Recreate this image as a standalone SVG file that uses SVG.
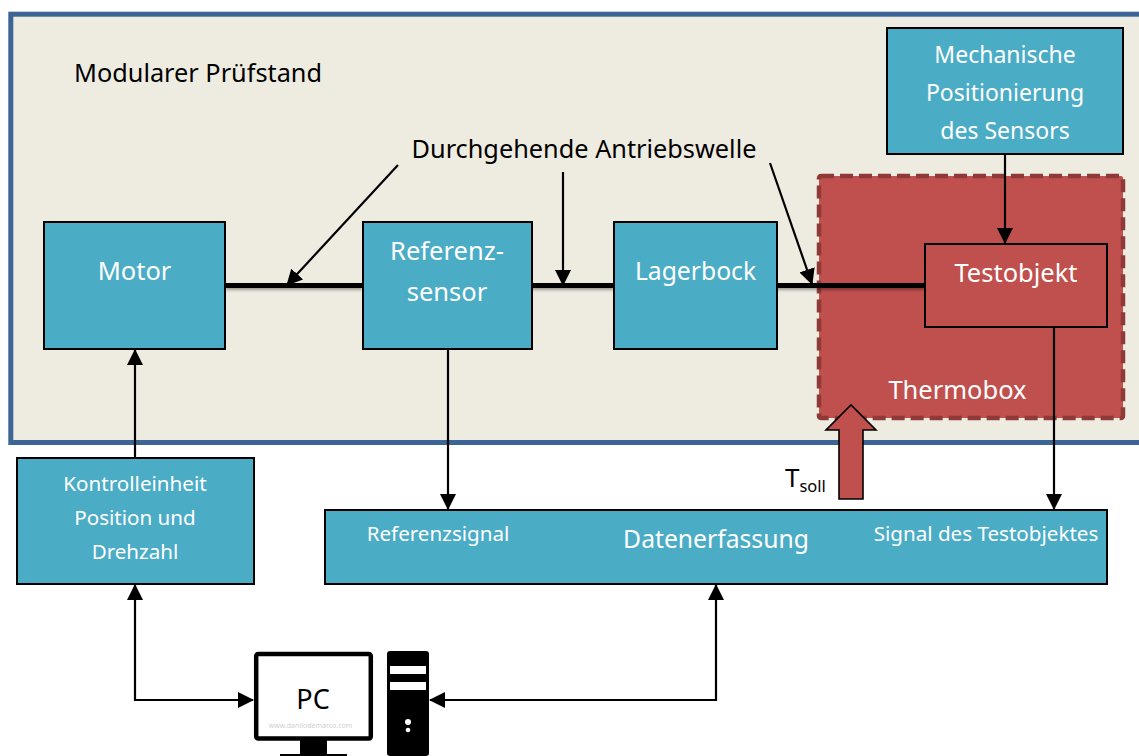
<svg xmlns="http://www.w3.org/2000/svg" width="1139" height="756" viewBox="0 0 1139 756">
<style>
text{font-family:"Noto Sans","Open Sans",sans-serif;text-anchor:middle}
.box{fill:#4bacc6;stroke:#000;stroke-width:2}
.w{fill:#fff;font-size:25.5px}
.w2{fill:#fff;font-size:24.7px}
.ws{fill:#fff;font-size:23px}
.s{fill:#fff;font-size:20.6px}
.k{fill:#000;font-size:25.3px}
.c{fill:none;stroke:#000;stroke-width:2.2}
.shaft{fill:none;stroke:#000;stroke-width:5;filter:url(#sh)}
</style>
<defs>
<marker id="a" viewBox="0 0 16 16" refX="15" refY="8" markerWidth="16" markerHeight="16" markerUnits="userSpaceOnUse" orient="auto-start-reverse"><path d="M0 0L16 8L0 16z" fill="#000"/></marker>
<filter id="sh" filterUnits="userSpaceOnUse" x="200" y="270" width="760" height="32"><feDropShadow dx="0" dy="2" stdDeviation="1.5" flood-color="#000" flood-opacity="0.35"/></filter>
</defs>
<rect width="1139" height="756" fill="#fff"/>
<g id="pruefstand">
<rect x="10.8" y="14.2" width="1140" height="428.3" fill="#eeece1" stroke="#3c6494" stroke-width="5"/>
<text class="k" x="198" y="82">Modularer Prüfstand</text>
</g>
<g id="thermobox">
<rect x="819" y="176" width="304" height="242" rx="2" fill="#c0504d" stroke="#8f3a38" stroke-width="4.5" stroke-dasharray="13 6"/>
<text class="w" x="957.500" y="399">Thermobox</text>
</g>
<g id="shaft-label"><text class="k" x="584" y="157.500">Durchgehende Antriebswelle</text></g>
<g id="connectors">
<path class="shaft" d="M226 285.500H362"/>
<path class="shaft" d="M532 285.500H614"/>
<path class="shaft" d="M777 285.500H925"/>
<path class="c" marker-end="url(#a)" d="M398 165L287 285"/>
<path class="c" marker-end="url(#a)" d="M563 172V285"/>
<path class="c" marker-end="url(#a)" d="M770 163L812 284"/>
<path class="c" marker-end="url(#a)" d="M1005 155V243"/>
<path class="c" marker-end="url(#a)" d="M1054 328V509"/>
<path class="c" marker-end="url(#a)" d="M448 350V509"/>
<path class="c" marker-end="url(#a)" d="M135 458V350"/>
<path class="c" marker-start="url(#a)" marker-end="url(#a)" d="M135 585V700H253"/>
<path class="c" marker-start="url(#a)" marker-end="url(#a)" d="M716 585V700H430"/>
</g>
<g id="tsoll">
<path d="M839 499H863V430H876L851 405L826 430H839z" fill="#c0504d" stroke="#000" stroke-width="1.6"/>
<text x="785" y="487" font-size="26" fill="#000" style="text-anchor:start">T<tspan font-size="16.500" dy="5">soll</tspan></text>
</g>
<g id="motor"><rect class="box" x="44" y="222" width="181" height="127"/><text class="w" x="134.500" y="280">Motor</text></g>
<g id="referenzsensor"><rect class="box" x="363" y="222" width="169" height="127"/><text class="w" x="447" y="260">Referenz-</text><text class="w" x="447" y="301">sensor</text></g>
<g id="lagerbock"><rect class="box" x="614" y="222" width="163" height="127"/><text class="w2" x="695.500" y="280">Lagerbock</text></g>
<g id="testobjekt"><rect x="925" y="244" width="182" height="83" fill="#c0504d" stroke="#000" stroke-width="2"/><text class="w" x="1016" y="282">Testobjekt</text></g>
<g id="positionierung"><rect class="box" x="887" y="28" width="236" height="126"/><text class="ws" x="1005" y="63">Mechanische</text><text class="ws" x="1005" y="101">Positionierung</text><text class="ws" x="1005" y="139">des Sensors</text></g>
<g id="kontrolleinheit"><rect class="box" x="17" y="458" width="237" height="126"/><text class="s" x="135" y="491">Kontrolleinheit</text><text class="s" x="135" y="525">Position und</text><text class="s" x="135" y="559">Drehzahl</text></g>
<g id="datenerfassung"><rect class="box" x="325" y="510" width="782" height="74"/><text class="w2" x="716" y="548">Datenerfassung</text><text class="s" x="438" y="541">Referenzsignal</text><text class="s" x="986" y="541">Signal des Testobjektes</text></g>
<g id="pc">
<rect x="256.200" y="654" width="114.600" height="84.500" rx="2" fill="#fff" stroke="#000" stroke-width="4.5"/>
<rect x="300" y="740" width="27" height="16" fill="#000"/>
<rect x="280" y="754" width="67" height="2" fill="#000"/>
<text x="313" y="709" font-size="27" fill="#000">PC</text>
<text x="310.500" y="728" font-size="7" fill="#d0d0d0">www.danilodemarco.com</text>
</g>
<g id="tower">
<rect x="387" y="651" width="42" height="105" rx="3" fill="#000"/>
<rect x="390" y="666" width="36" height="8" fill="#fff"/>
<rect x="390" y="682" width="36" height="8" fill="#fff"/>
<circle cx="408" cy="722" r="3" fill="#fff"/>
<circle cx="408" cy="730" r="2.300" fill="#fff"/>
</g>
</svg>
